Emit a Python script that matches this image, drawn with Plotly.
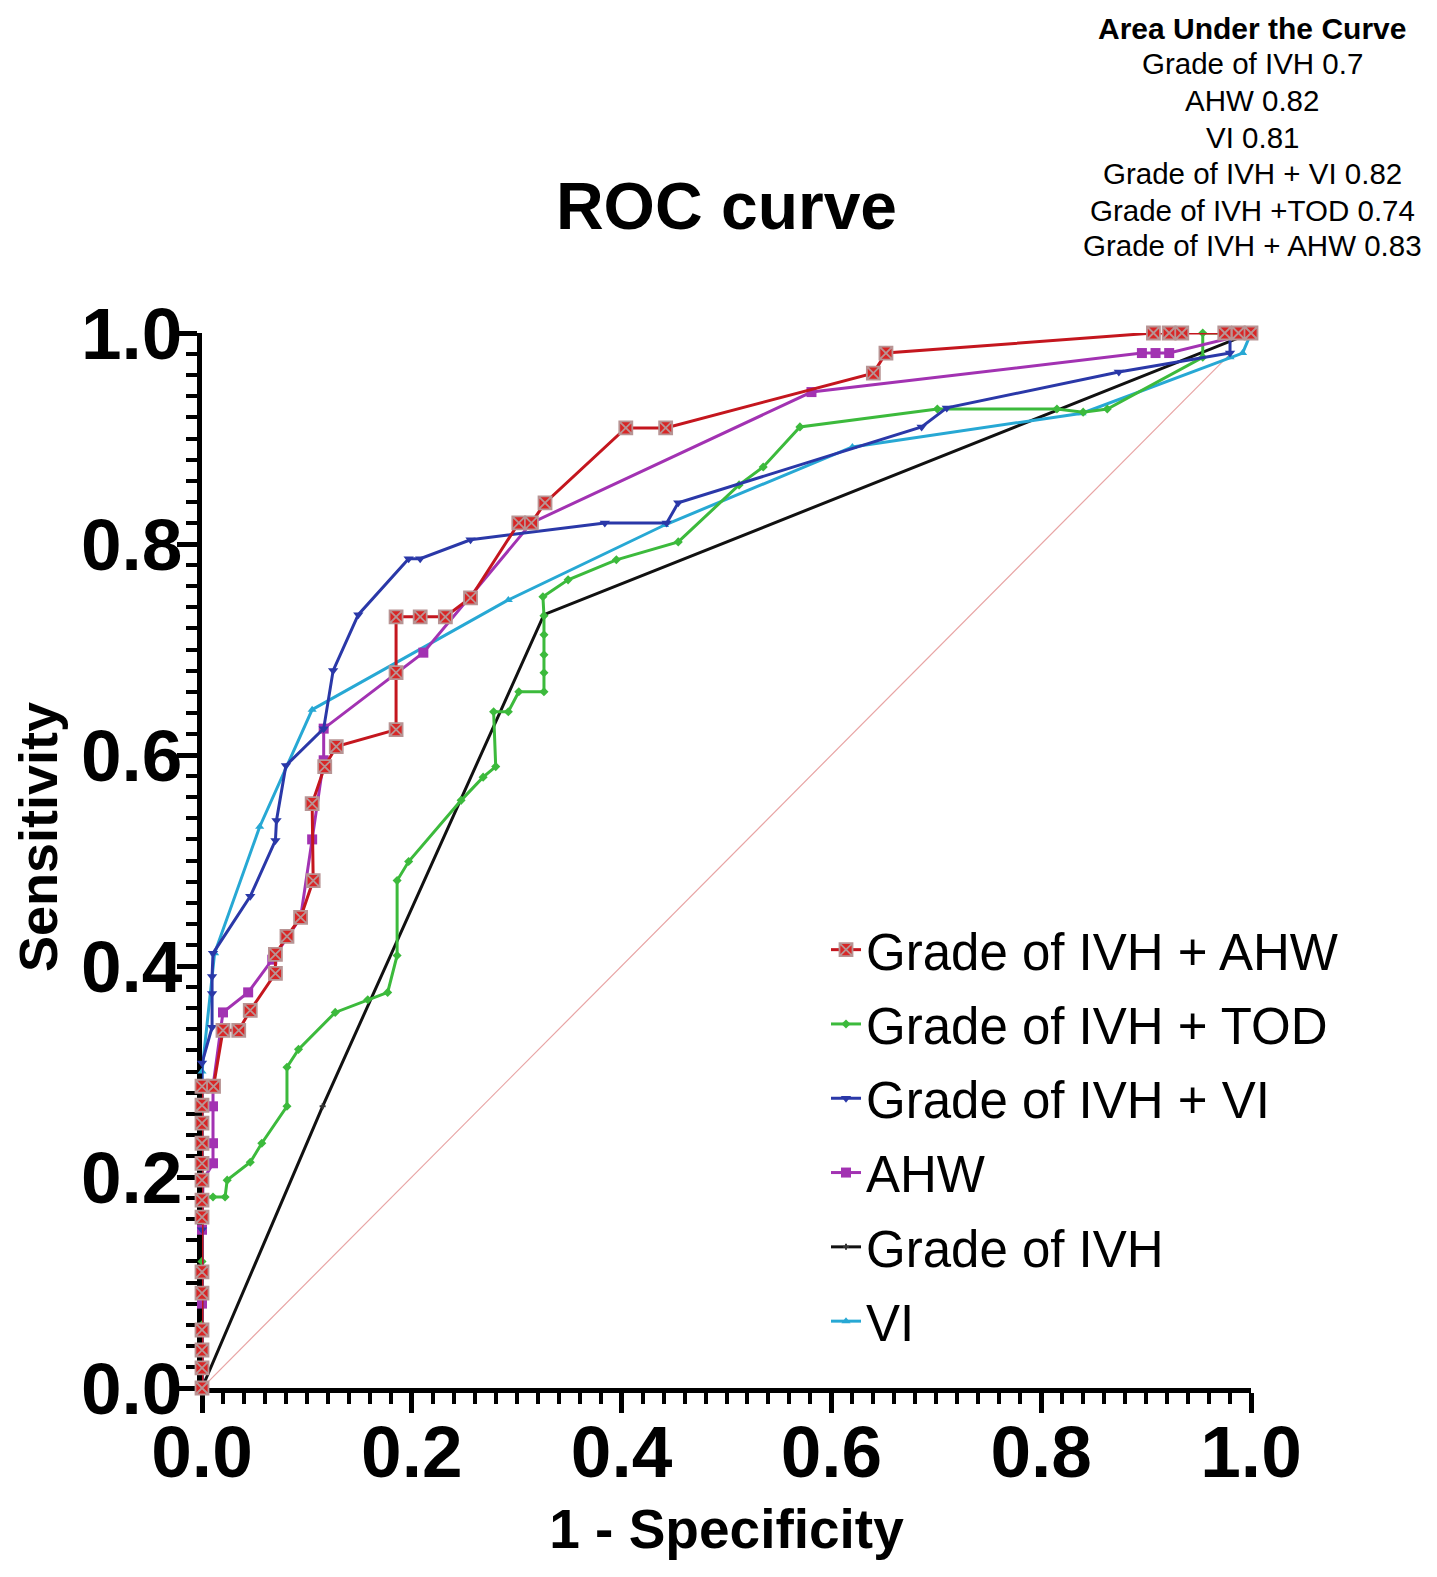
import plotly.graph_objects as go

# ---------------- data ----------------
ivh_ahw_x = [0, 0, 0, 0, 0, 0, 0, 0, 0, 0, 0, 0, 0, 0, 0.011, 0.020, 0.035, 0.046, 0.070, 0.070,
             0.081, 0.094, 0.106, 0.105, 0.117, 0.128, 0.185, 0.185, 0.185, 0.208, 0.232, 0.256,
             0.302, 0.314, 0.327, 0.404, 0.442, 0.640, 0.652, 0.907, 0.922, 0.934, 0.975, 0.988, 1.0]
ivh_ahw_y = [0, 0.019, 0.036, 0.055, 0.090, 0.110, 0.162, 0.178, 0.197, 0.213, 0.232, 0.251, 0.268,
             0.286, 0.286, 0.339, 0.339, 0.358, 0.393, 0.411, 0.428, 0.446, 0.481, 0.554, 0.589,
             0.608, 0.624, 0.678, 0.731, 0.731, 0.731, 0.749, 0.820, 0.820, 0.839, 0.910, 0.910,
             0.962, 0.981, 1.0, 1.0, 1.0, 1.0, 1.0, 1.0]

ivh_tod_x = [0, 0, 0, 0, 0.0105, 0.022, 0.024, 0.046, 0.057, 0.081, 0.081, 0.092, 0.127, 0.158,
             0.177, 0.186, 0.186, 0.197, 0.247, 0.268, 0.280, 0.278, 0.292, 0.302, 0.326, 0.326,
             0.326, 0.326, 0.326, 0.325, 0.349, 0.395, 0.454, 0.512, 0.535, 0.570, 0.701, 0.815,
             0.840, 0.863, 0.954, 0.954, 1.0]
ivh_tod_y = [0, 0.060, 0.120, 0.181, 0.181, 0.181, 0.197, 0.214, 0.232, 0.267, 0.304, 0.321, 0.356,
             0.368, 0.375, 0.410, 0.481, 0.499, 0.557, 0.579, 0.589, 0.641, 0.641, 0.660, 0.660,
             0.678, 0.695, 0.714, 0.732, 0.750, 0.766, 0.785, 0.802, 0.856, 0.873, 0.911, 0.928,
             0.928, 0.925, 0.928, 0.977, 1.0, 1.0]

ivh_vi_x = [0, 0, 0, 0.0096, 0.0096, 0.0096, 0.0105, 0.046, 0.070, 0.071, 0.080, 0.116, 0.125,
            0.149, 0.197, 0.208, 0.256, 0.384, 0.443, 0.454, 0.686, 0.710, 0.874, 0.980, 0.980, 1.0]
ivh_vi_y = [0, 0.150, 0.308, 0.342, 0.374, 0.390, 0.412, 0.466, 0.519, 0.538, 0.590, 0.625, 0.680,
            0.733, 0.786, 0.786, 0.804, 0.820, 0.820, 0.839, 0.911, 0.929, 0.963, 0.981, 1.0, 1.0]

ahw_x = [0, 0, 0, 0.001, 0.0105, 0.0105, 0.0105, 0.0105, 0.020, 0.044, 0.067, 0.094, 0.105,
         0.116, 0.116, 0.211, 0.314, 0.581, 0.896, 0.909, 0.922, 1.0]
ahw_y = [0, 0.080, 0.150, 0.197, 0.213, 0.232, 0.267, 0.286, 0.356, 0.375, 0.406, 0.446, 0.520,
         0.595, 0.625, 0.697, 0.820, 0.944, 0.981, 0.981, 0.981, 1.0]

ivh_x = [0, 0.115, 0.326, 1.0]
ivh_y = [0, 0.267, 0.733, 1.0]

vi_x = [0, 0, 0.012, 0.055, 0.105, 0.292, 0.441, 0.620, 0.839, 0.980, 0.992, 1.0]
vi_y = [0, 0.300, 0.412, 0.532, 0.643, 0.747, 0.818, 0.892, 0.924, 0.977, 0.981, 1.0]

ref_x = [0, 0.98]
ref_y = [0, 0.98]

auc_title = "Area Under the Curve"
auc_lines = ["Grade of IVH 0.7", "AHW 0.82", "VI 0.81", "Grade of IVH + VI 0.82",
             "Grade of IVH +TOD 0.74", "Grade of IVH + AHW 0.83"]

tick_vals = [0, 0.2, 0.4, 0.6, 0.8, 1.0]
tick_text = ["0.0", "0.2", "0.4", "0.6", "0.8", "1.0"]

# ---------------- figure ----------------
W, H = 1437, 1577
L, R, T, B = 202, 186, 333, 189
PW, PH = W - L - R, H - T - B
FONT = "Liberation Sans, Arial, sans-serif"

fig = go.Figure()

fig.add_trace(go.Scatter(x=ref_x, y=ref_y, mode="lines", showlegend=False,
                         line=dict(color="#e8a4a4", width=1.2), hoverinfo="skip"))

series = [
    # name, x, y, line color, marker symbol, marker size, marker color, marker line, rank
    ("Grade of IVH", ivh_x, ivh_y, "#111111", "cross", 5, "#333333", None, 5),
    ("VI", vi_x, vi_y, "#27a8d4", "triangle-up", 8, "#27a8d4", None, 6),
    ("Grade of IVH + TOD", ivh_tod_x, ivh_tod_y, "#3cba3c", "diamond", 7, "#3cba3c", None, 2),
    ("AHW", ahw_x, ahw_y, "#a232b2", "square", 10, "#a232b2", None, 4),
    ("Grade of IVH + VI", ivh_vi_x, ivh_vi_y, "#2a38a8", "triangle-down", 9, "#2a38a8", None, 3),
    ("Grade of IVH + AHW", ivh_ahw_x, ivh_ahw_y, "#c4161e", "square-x", 13, "#d82626",
     dict(color="#b89494", width=1.8), 1),
]

for name, xs, ys, lc, sym, ms, mc, mline, rank in series:
    marker = dict(symbol=sym, size=ms, color=mc)
    if mline:
        marker["line"] = mline
    else:
        marker["line"] = dict(width=0, color=mc)
    fig.add_trace(go.Scatter(
        x=xs, y=ys, mode="lines+markers", name=name, legendrank=rank,
        legendgroup=name, line=dict(color=lc, width=3), marker=marker,
        cliponaxis=False))

axis_common = dict(
    range=[0, 1], showgrid=False, zeroline=False,
    showline=True, linecolor="black", linewidth=5,
    ticks="outside", ticklen=20, tickwidth=5, tickcolor="black",
    tickvals=tick_vals, ticktext=tick_text,
    tickfont=dict(family=FONT, size=73, color="black", weight="bold"),
    minor=dict(dtick=0.02, ticks="outside", ticklen=11, tickwidth=4, tickcolor="black",
               showgrid=False),
    layer="below traces", fixedrange=True,
)

fig.update_xaxes(**axis_common, ticklabelstandoff=-24,
                 title=dict(text="1 - Specificity", standoff=20,
                            font=dict(family=FONT, size=55, color="black", weight="bold")))
fig.update_yaxes(**axis_common, ticklabelstandoff=-20)

annotations = []
# y-axis title as annotation (offset from plot centre as in the reference)
annotations.append(dict(
    text="Sensitivity", xref="paper", yref="paper", x=(38 - L) / PW,
    y=(H - B - 837) / PH, xanchor="center", yanchor="middle", textangle=-90,
    showarrow=False, font=dict(family=FONT, size=54, color="black", weight="bold")))

ann_x = (1252 - L) / PW
ys_px = [28, 64, 100, 137, 173, 210, 246]
texts = [auc_title] + auc_lines
for i, (txt, py) in enumerate(zip(texts, ys_px)):
    annotations.append(dict(
        text=txt, xref="paper", yref="paper", x=ann_x,
        y=(H - B - py) / PH, xanchor="center", yanchor="middle",
        showarrow=False,
        font=dict(family=FONT, size=30 if i == 0 else 29.5, color="black",
                  weight="bold" if i == 0 else "normal")))

fig.update_layout(
    width=W, height=H, autosize=False,
    margin=dict(l=L, r=R, t=T, b=B, pad=0),
    paper_bgcolor="white", plot_bgcolor="white",
    title=dict(text="ROC curve", x=0.5, xref="paper", xanchor="center",
               y=1 - 206 / H, yref="container", yanchor="middle",
               font=dict(family=FONT, size=66, color="black", weight="bold")),
    legend=dict(x=(826 - L) / PW, y=(H - B - 910) / PH,
                xanchor="left", yanchor="top", traceorder="grouped", tracegroupgap=5,
                bgcolor="rgba(0,0,0,0)",
                font=dict(family=FONT, size=51, color="black")),
    annotations=annotations,
    showlegend=True,
)

fig.write_html("out.html")
